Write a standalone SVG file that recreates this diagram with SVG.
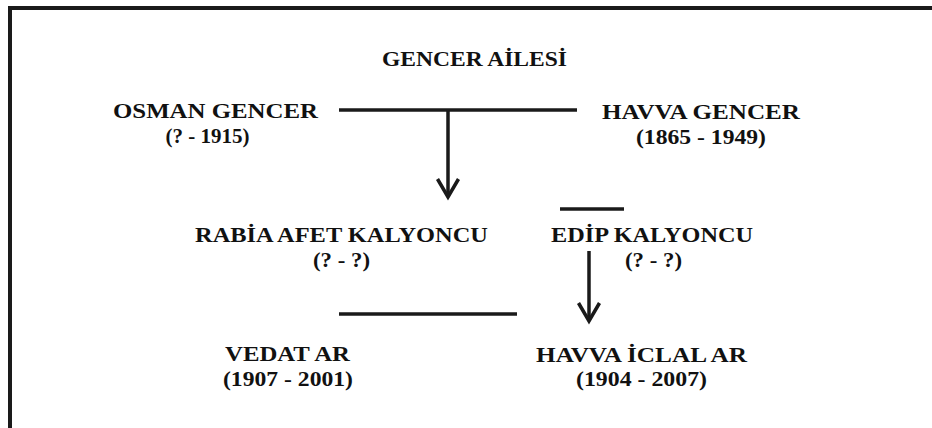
<svg xmlns="http://www.w3.org/2000/svg" width="932" height="428" viewBox="0 0 932 428">
  <defs>
    <style>
      .t { font-family: "Liberation Serif", "Times New Roman", serif; font-weight: bold; font-size: 22px; fill: #111; }
      .d { font-family: "Liberation Serif", "Times New Roman", serif; font-weight: bold; font-size: 21px; fill: #111; }
      .ln { stroke: #1a1a1a; stroke-width: 3.5; fill: none; }
      .frame { stroke: #1a1a1a; stroke-width: 4; fill: none; }
    </style>
    <marker id="chev" markerUnits="userSpaceOnUse" markerWidth="30" markerHeight="30" refX="20" refY="12" orient="auto" overflow="visible">
      <path d="M2,1.5 L20,12 L2,22.5" fill="none" stroke="#1a1a1a" stroke-width="3.5"/>
    </marker>
  </defs>
  <rect width="932" height="428" fill="#fff"/>
  <path class="frame" d="M10,428 V8 H932"/>

  <g id="title">
    <text class="t" x="382" y="66" textLength="185" lengthAdjust="spacingAndGlyphs">GENCER AİLESİ</text>
  </g>
  <g id="osman">
    <text class="t" x="113" y="118" textLength="205" lengthAdjust="spacingAndGlyphs">OSMAN GENCER</text>
    <text class="d" x="207.5" y="142.5" text-anchor="middle">(? - 1915)</text>
  </g>
  <g id="havva-gencer">
    <text class="t" x="602" y="119" textLength="198" lengthAdjust="spacingAndGlyphs">HAVVA GENCER</text>
    <text class="d" x="636" y="144" textLength="130" lengthAdjust="spacingAndGlyphs">(1865 - 1949)</text>
  </g>
  <g id="rabia">
    <text class="t" x="195" y="242" textLength="293" lengthAdjust="spacingAndGlyphs">RABİA AFET KALYONCU</text>
    <text class="d" x="313" y="267" textLength="57" lengthAdjust="spacingAndGlyphs">(? - ?)</text>
  </g>
  <g id="edip">
    <text class="t" x="551" y="242" textLength="202" lengthAdjust="spacingAndGlyphs">EDİP KALYONCU</text>
    <text class="d" x="625" y="267" textLength="57" lengthAdjust="spacingAndGlyphs">(? - ?)</text>
  </g>
  <g id="vedat">
    <text class="t" x="225" y="361" textLength="125" lengthAdjust="spacingAndGlyphs">VEDAT AR</text>
    <text class="d" x="223" y="386" textLength="130" lengthAdjust="spacingAndGlyphs">(1907 - 2001)</text>
  </g>
  <g id="havva-iclal">
    <text class="t" x="536" y="362" textLength="211" lengthAdjust="spacingAndGlyphs">HAVVA İCLAL AR</text>
    <text class="d" x="576" y="386" textLength="131" lengthAdjust="spacingAndGlyphs">(1904 - 2007)</text>
  </g>

  <g id="connectors">
    <line class="ln" x1="339" y1="110" x2="577" y2="110"/>
    <line class="ln" x1="448" y1="110" x2="448" y2="197" marker-end="url(#chev)"/>
    <line class="ln" x1="560" y1="209" x2="624" y2="209"/>
    <line class="ln" x1="589" y1="251" x2="589" y2="321" marker-end="url(#chev)"/>
    <line class="ln" x1="339" y1="314" x2="517" y2="314"/>
  </g>
</svg>
